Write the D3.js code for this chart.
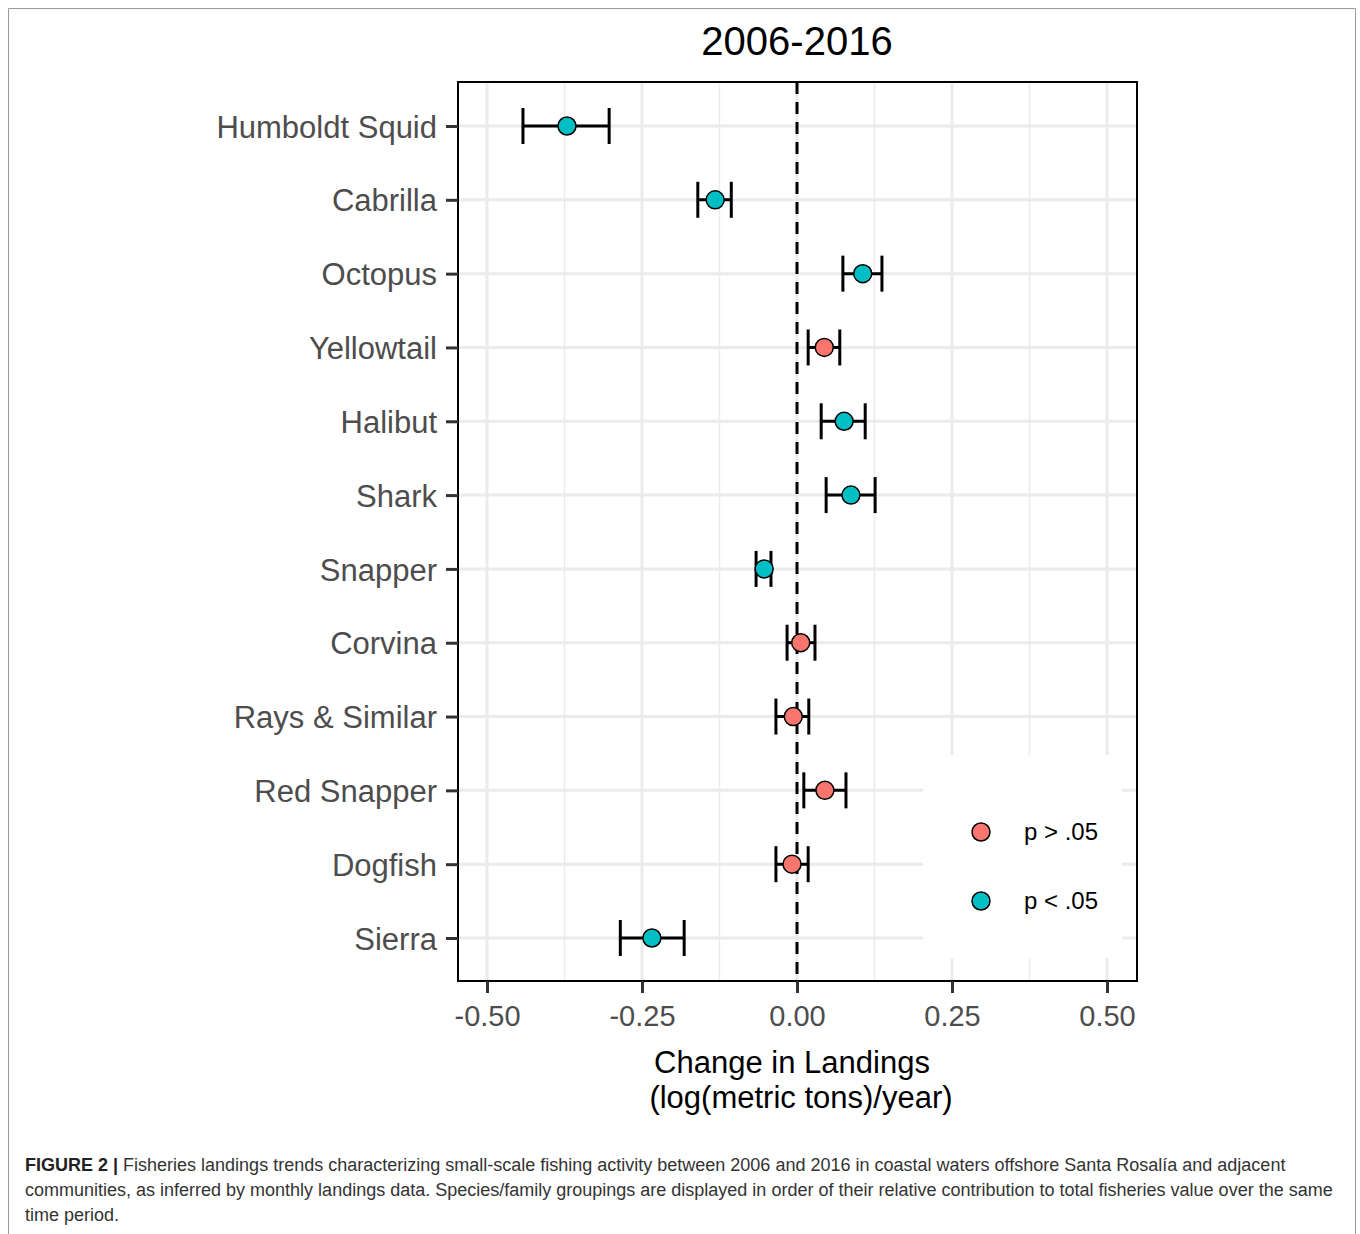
<!DOCTYPE html>
<html><head><meta charset="utf-8">
<script src="https://cdn.jsdelivr.net/npm/d3@7"></script>
<style>body{margin:0;background:#fff;} svg{display:block;}</style>
</head><body>
<svg id="c" width="1360" height="1234"></svg>
<script>
const species = ["Humboldt Squid","Cabrilla","Octopus","Yellowtail","Halibut","Shark","Snapper","Corvina","Rays & Similar","Red Snapper","Dogfish","Sierra"];
const estimate = [-0.371,-0.132,0.106,0.044,0.076,0.087,-0.053,0.006,-0.006,0.045,-0.008,-0.234];
const lower    = [-0.442,-0.160,0.074,0.018,0.039,0.047,-0.066,-0.016,-0.034,0.011,-0.034,-0.285];
const upper    = [-0.303,-0.106,0.137,0.069,0.110,0.126,-0.042,0.029,0.019,0.079,0.018,-0.182];
const signif   = ["p < .05","p < .05","p < .05","p > .05","p < .05","p < .05","p < .05","p > .05","p > .05","p > .05","p > .05","p < .05"];
const legendLabels = ["p > .05","p < .05"];
const xTicks = [-0.50,-0.25,0.00,0.25,0.50];
const xMinor = [-0.375,-0.125,0.125,0.375];

const data = species.map((s,i)=>({s, est:estimate[i], lo:lower[i], hi:upper[i], g:signif[i]}));
const svg = d3.select("#c");
const L=458, R=1137, T=82, B=981;
const FONT = "Liberation Sans, Arial, sans-serif";
const x = d3.scaleLinear().domain([-0.5468,0.5484]).range([L,R]);
const y = d3.scalePoint().domain(species).range([126,938]);
const color = d3.scaleOrdinal().domain(legendLabels).range(["#F8766D","#00BFC4"]);

// outer frame
svg.append("path").attr("d","M8.5,1234 L8.5,8.5 L1355.5,8.5 L1355.5,1234").attr("fill","none").attr("stroke","#9a9a9a").attr("stroke-width",1);

const g = svg.append("g");
// grid
g.selectAll(".gm").data(xMinor).enter().append("line")
 .attr("x1",d=>x(d)).attr("x2",d=>x(d)).attr("y1",T).attr("y2",B)
 .attr("stroke","#ebebeb").attr("stroke-width",1.5);
g.selectAll(".gM").data(xTicks).enter().append("line")
 .attr("x1",d=>x(d)).attr("x2",d=>x(d)).attr("y1",T).attr("y2",B)
 .attr("stroke","#ebebeb").attr("stroke-width",3);
g.selectAll(".gy").data(species).enter().append("line")
 .attr("x1",L).attr("x2",R).attr("y1",d=>y(d)).attr("y2",d=>y(d))
 .attr("stroke","#ebebeb").attr("stroke-width",3);

// legend background
const lg = svg.append("g");
lg.append("rect").attr("x",923).attr("y",755).attr("width",199).attr("height",203).attr("fill","#fff");

// zero line
g.append("line").attr("x1",x(0)).attr("x2",x(0)).attr("y1",T).attr("y2",B)
 .attr("stroke","#000").attr("stroke-width",3).attr("stroke-dasharray","12,8");

// error bars
const eb = svg.append("g").selectAll("g").data(data).enter().append("g");
eb.append("line").attr("x1",d=>x(d.lo)).attr("x2",d=>x(d.hi)).attr("y1",d=>y(d.s)).attr("y2",d=>y(d.s)).attr("stroke","#000").attr("stroke-width",3);
eb.append("line").attr("x1",d=>x(d.lo)).attr("x2",d=>x(d.lo)).attr("y1",d=>y(d.s)-18).attr("y2",d=>y(d.s)+18).attr("stroke","#000").attr("stroke-width",3);
eb.append("line").attr("x1",d=>x(d.hi)).attr("x2",d=>x(d.hi)).attr("y1",d=>y(d.s)-18).attr("y2",d=>y(d.s)+18).attr("stroke","#000").attr("stroke-width",3);
eb.append("circle").attr("cx",d=>x(d.est)).attr("cy",d=>y(d.s)).attr("r",9).attr("fill",d=>color(d.g)).attr("stroke","#000").attr("stroke-width",1.5);

// legend items
legendLabels.forEach((lab,i)=>{
  const yy = 832 + i*69;
  lg.append("circle").attr("cx",981).attr("cy",yy).attr("r",9).attr("fill",color(lab)).attr("stroke","#000").attr("stroke-width",1.5);
  lg.append("text").attr("x",1024).attr("y",yy+8).text(lab).attr("font-family",FONT).attr("font-size",24).attr("fill","#000");
});

// panel border
svg.append("rect").attr("x",L).attr("y",T).attr("width",R-L).attr("height",B-T).attr("fill","none").attr("stroke","#000").attr("stroke-width",2);

// axes
const fmt = d => d3.format(".2f")(d).replace("−","-");
const xAxis = d3.axisBottom(x).tickValues(xTicks).tickFormat(fmt).tickSize(12).tickPadding(10);
const xa = svg.append("g").attr("transform",`translate(0,${B})`).call(xAxis);
xa.select(".domain").remove();
xa.selectAll(".tick line").attr("stroke","#333").attr("stroke-width",3);
xa.selectAll(".tick text").attr("font-family",FONT).attr("font-size",29).attr("fill","#4d4d4d").attr("dy","0.8em");

const yAxis = d3.axisLeft(y).tickSize(12).tickPadding(9);
const ya = svg.append("g").attr("transform",`translate(${L},0)`).call(yAxis);
ya.select(".domain").remove();
ya.selectAll(".tick line").attr("stroke","#333").attr("stroke-width",3);
ya.selectAll(".tick text").attr("font-family",FONT).attr("font-size",31).attr("fill","#4d4d4d").attr("dy","0.36em");

// title
svg.append("text").attr("x",797).attr("y",55).attr("text-anchor","middle").text("2006-2016")
 .attr("font-family",FONT).attr("font-size",40).attr("fill","#000");
// axis title
svg.append("text").attr("x",792).attr("y",1073).attr("text-anchor","middle").text("Change in Landings")
 .attr("font-family",FONT).attr("font-size",31).attr("fill","#000");
svg.append("text").attr("x",801).attr("y",1108).attr("text-anchor","middle").text("(log(metric tons)/year)")
 .attr("font-family",FONT).attr("font-size",31).attr("fill","#000");

// caption
const cap = svg.append("g").attr("font-family",FONT).attr("font-size",18).attr("fill","#333");
const l1 = cap.append("text").attr("x",25).attr("y",1171);
l1.append("tspan").attr("font-weight","bold").attr("fill","#222").text("FIGURE 2 | ");
l1.append("tspan").text("Fisheries landings trends characterizing small-scale fishing activity between 2006 and 2016 in coastal waters offshore Santa Rosalía and adjacent");
cap.append("text").attr("x",25).attr("y",1196).text("communities, as inferred by monthly landings data. Species/family groupings are displayed in order of their relative contribution to total fisheries value over the same");
cap.append("text").attr("x",25).attr("y",1221).text("time period.");
</script>
</body></html>
